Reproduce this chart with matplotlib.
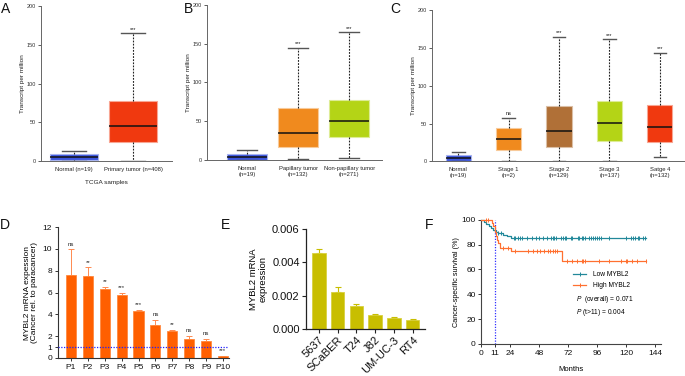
import numpy as np
import matplotlib
matplotlib.use("Agg")
import matplotlib.pyplot as plt
from matplotlib.lines import Line2D
from matplotlib import colors as mcolors

plt.rcParams['font.family'] = ['Liberation Sans', 'DejaVu Sans']
plt.rcParams['mathtext.fontset'] = 'custom'
plt.rcParams['mathtext.it'] = 'Liberation Sans:italic'
plt.rcParams['mathtext.rm'] = 'Liberation Sans'

# ---------------- data ----------------
# Panel A
A_labels = ["Normal (n=19)", "Primary tumor (n=408)"]
A_q1 = [0.8, 25]
A_med = [4.8, 45]
A_q3 = [8.5, 78]
A_lo = [0, 0.5]
A_hi = [13.3, 165]
A_sig = ["", "***"]
A_colors = ["#3C55DC", "#F0390F"]

# Panel B
B_labels = ["Normal\n(n=19)", "Papillary tumor\n(n=132)", "Non-papillary tumor\n(n=271)"]
B_q1 = [0.3, 16.5, 30]
B_med = [4.3, 34.5, 50]
B_q3 = [7.6, 67.5, 78]
B_lo = [0, 1.5, 2.5]
B_hi = [13.3, 145, 165]
B_sig = ["", "***", "***"]
B_colors = ["#3C55DC", "#F08A1E", "#B4D416"]

# Panel C
C_labels = ["Normal\n(n=19)", "Stage 1\n(n=2)", "Stage 2\n(n=129)", "Stage 3\n(n=137)", "Satge 4\n(n=132)"]
C_q1 = [0.4, 15.4, 18.5, 27.3, 26]
C_med = [4.5, 29, 40.6, 50.4, 45]
C_q3 = [8.3, 44, 73, 80.3, 74]
C_lo = [0, 1, 0, 0.5, 6]
C_hi = [12.7, 58, 165, 161.7, 143.5]
C_sig = ["", "ns", "***", "***", "***"]
C_colors = ["#3C55DC", "#F08A1E", "#B07037", "#B4D416", "#F0390F"]

# Panel D
D_labels = ["P1", "P2", "P3", "P4", "P5", "P6", "P7", "P8", "P9", "P10"]
D_vals = [7.57, 7.55, 6.29, 5.8, 4.34, 3.0, 2.47, 1.74, 1.6, 0.18]
D_err = [2.38, 0.75, 0.21, 0.2, 0.06, 0.5, 0.13, 0.31, 0.14, 0.03]
D_sig = ["ns", "**", "**", "***", "***", "ns", "**", "ns", "ns", "***"]

# Panel E
E_labels = ["5637", "SCaBER", "T24", "J82", "UM-UC-3", "RT4"]
E_vals = [0.00457, 0.00221, 0.00137, 0.00081, 0.00066, 0.00054]
E_err = [0.00022, 0.00029, 0.00012, 0.00006, 0.00004, 0.00004]

# Panel F (Kaplan-Meier)
low_t = [0, 2, 4, 6, 8, 10, 12, 14, 18, 21, 25, 136]
low_s = [100, 98, 96.5, 95, 93.5, 92, 90.5, 89.5, 88, 86.5, 85, 85]
low_cens = [14, 16, 27, 28, 30, 32, 34, 38, 42, 45, 48, 51, 54, 57.7, 59, 60.5, 62, 66,
            67.4, 69.3, 70, 74, 75, 80, 81, 83, 84.5, 85.6, 89.4, 91, 92.7, 94.4, 95.8,
            97.4, 98.8, 105.4, 119.8, 124.2, 126, 127.5, 129.4, 130.3, 134, 135.5]
high_t = [0, 8.5, 10, 11, 12, 13, 14, 15.5, 25, 66.5, 136.5]
high_s = [100, 97.5, 95, 90, 87, 84, 81, 77.5, 75, 67, 67]
high_cens = [3.5, 5.5, 18, 22, 28, 39, 43, 46, 49, 52, 55, 57, 59, 61, 63, 70.7, 74.8,
             78.9, 83.1, 84.5, 85.8, 97.7, 106, 115.4, 119.8, 121, 124.5, 128.6, 136.3]
F_xticks = [0, 11, 24, 48, 72, 96, 120, 144]

# ---------------- figure ----------------
W, H = 685, 376
fig = plt.figure(figsize=(W / 100, H / 100), dpi=100)


def add_ax(l, t, r, b):
    return fig.add_axes([l / W, 1 - b / H, (r - l) / W, (b - t) / H])


def lighten(c, f=0.45):
    rgb = np.array(mcolors.to_rgb(c))
    return tuple(rgb + (1 - rgb) * f)


def box_panel(ax, labels, q1, med, q3, lo, hi, sig, cols, xlim, width, ylabel):
    stats = []
    for i in range(len(labels)):
        stats.append(dict(med=med[i], q1=q1[i], q3=q3[i], whislo=lo[i], whishi=hi[i], fliers=[]))
    pos = np.arange(1, len(labels) + 1)
    bp = ax.bxp(stats, positions=pos, widths=width, patch_artist=True, showfliers=False,
                capwidths=width * 0.5,
                whiskerprops=dict(color='#222222', linestyle=(0, (1.6, 1.2)), linewidth=0.8),
                capprops=dict(color='#555555', linewidth=1.0),
                medianprops=dict(color='#111111', linewidth=1.1))
    for patch, c in zip(bp['boxes'], cols):
        patch.set_facecolor(c)
        patch.set_edgecolor(lighten(c, 0.55))
        patch.set_linewidth(0.8)
    for i, s in enumerate(sig):
        if s:
            ax.text(pos[i], hi[i] + 2, s, ha='center', va='bottom', fontsize=4, color='#111111')
    ax.set_xlim(*xlim)
    ax.set_ylim(0, 200)
    ax.set_yticks([0, 50, 100, 150, 200])
    ax.set_xticks(pos)
    ax.set_xticklabels(labels, fontsize=4.2, color='#222222', linespacing=1.3)
    ax.tick_params(axis='x', length=0, pad=4)
    ax.tick_params(axis='y', length=2, width=0.6, labelsize=4, pad=1.5, colors='#444444',
                   labelcolor='#333333')
    for sp in ['top', 'right']:
        ax.spines[sp].set_visible(False)
    for sp in ['left', 'bottom']:
        ax.spines[sp].set_color('#666666')
        ax.spines[sp].set_linewidth(0.7)
    ax.set_ylabel(ylabel, fontsize=4.6, color='#222222', labelpad=1.5)


axA = add_ax(41, 6, 172, 161)
box_panel(axA, A_labels, A_q1, A_med, A_q3, A_lo, A_hi, A_sig, A_colors,
          (0.44, 2.66), 0.81, "Transcript per million")
axA.set_xlabel("TCGA samples", fontsize=4.6, color='#222222', labelpad=6)

axB = add_ax(207, 5, 382, 160)
box_panel(axB, B_labels, B_q1, B_med, B_q3, B_lo, B_hi, B_sig, B_colors,
          (0.22, 3.64), 0.78, "Transcript per million")

axC = add_ax(432, 10.3, 685, 161.3)
box_panel(axC, C_labels, C_q1, C_med, C_q3, C_lo, C_hi, C_sig, C_colors,
          (0.48, 5.5), 0.5, "Transcript per million")

# ---------------- Panel D ----------------
axD = add_ax(57.7, 227, 229, 358)
xD = np.arange(len(D_labels))
axD.bar(xD, D_vals, width=0.6, color='#FF5F00', edgecolor='#FF8A40', linewidth=0.6, zorder=2)
axD.errorbar(xD, D_vals, yerr=[np.zeros(len(D_vals)), D_err], fmt='none',
             ecolor='#FF8A50', elinewidth=0.7, capsize=2, capthick=0.7, zorder=1)
for i, s in enumerate(D_sig):
    axD.text(xD[i], D_vals[i] + D_err[i] + 0.25, s, ha='center', va='bottom',
             fontsize=4.3, color='#222222')
axD.axhline(1, color='#2020FF', linestyle=(0, (1, 1.2)), linewidth=0.9, zorder=3)
axD.set_xlim(-0.79, 9.36)
axD.set_ylim(0, 12)
axD.set_yticks([0, 1, 2, 4, 6, 8, 10, 12])
axD.set_xticks(xD)
axD.set_xticklabels(D_labels)
axD.tick_params(axis='both', labelsize=6, length=2.5, width=0.7, pad=1.5, colors='#333333',
                labelcolor='#111111')
for sp in ['top', 'right']:
    axD.spines[sp].set_visible(False)
for sp in ['left', 'bottom']:
    axD.spines[sp].set_color('#333333')
    axD.spines[sp].set_linewidth(0.8)
axD.set_ylabel("MYBL2 mRNA expession\n(Cancer rel. to paracancer)", fontsize=6, labelpad=3,
               linespacing=1.1)

# ---------------- Panel E ----------------
axE = add_ax(306, 229.3, 425, 328.7)
xE = np.arange(len(E_labels))
axE.bar(xE, E_vals, width=0.71, color='#C8BE00', edgecolor='#D8D040', linewidth=0.6, zorder=2)
axE.errorbar(xE, E_vals, yerr=[np.zeros(len(E_vals)), E_err], fmt='none',
             ecolor='#C8BE00', elinewidth=0.8, capsize=2.5, capthick=0.8, zorder=1)
axE.set_xlim(-0.69, 5.66)
axE.set_ylim(0, 0.006)
axE.set_yticks([0, 0.002, 0.004, 0.006])
axE.set_yticklabels(["0.000", "0.002", "0.004", "0.006"])
axE.set_xticks(xE)
axE.set_xticklabels(E_labels, rotation=45, ha='right', rotation_mode='anchor')
axE.tick_params(axis='both', labelsize=8, length=3, width=0.8, pad=1.5, colors='#222222',
                labelcolor='#111111')
for sp in ['top', 'right']:
    axE.spines[sp].set_visible(False)
for sp in ['left', 'bottom']:
    axE.spines[sp].set_color('#222222')
    axE.spines[sp].set_linewidth(0.9)
axE.set_ylabel("MYBL2 mRNA\nexpression", fontsize=6.8, labelpad=3, linespacing=1.1)

# ---------------- Panel F ----------------
axF = add_ax(481.3, 219.7, 661, 344)
c_low, c_high = '#22889A', '#FF7030'


def km(ax, t, s, cens, color, label):
    t = np.asarray(t, float)
    s = np.asarray(s, float)
    ax.step(t, s, where='post', color=color, linewidth=0.9, zorder=3, label=label,
            clip_on=False)
    idx = np.searchsorted(t, np.asarray(cens), side='right') - 1
    ax.plot(cens, s[idx], linestyle='none', marker='|', markersize=3, mew=0.7,
            color=color, zorder=3, clip_on=False)


km(axF, low_t, low_s, low_cens, c_low, "Low MYBL2")
km(axF, high_t, high_s, high_cens, c_high, "High MYBL2")
axF.axvline(11, color='#3030FF', linestyle=(0, (1, 1.2)), linewidth=0.9, zorder=2)
axF.set_xlim(0, 148.8)
axF.set_ylim(0, 100)
axF.set_xticks(F_xticks)
axF.set_yticks([0, 20, 40, 60, 80, 100])
axF.tick_params(axis='both', labelsize=6, length=2.5, width=0.7, pad=1.5, colors='#333333',
                labelcolor='#111111')
for sp in ['top', 'right']:
    axF.spines[sp].set_visible(False)
for sp in ['left', 'bottom']:
    axF.spines[sp].set_color('#444444')
    axF.spines[sp].set_linewidth(0.8)
axF.set_xlabel("Months", fontsize=5.5, labelpad=7)
axF.set_ylabel("Cancer-specific survival (%)", fontsize=5.2, labelpad=1)
handles = [Line2D([], [], color=c_low, linewidth=0.9, marker='|', markersize=3, mew=0.7),
           Line2D([], [], color=c_high, linewidth=0.9, marker='|', markersize=3, mew=0.7)]
axF.legend(handles, ["Low MYBL2", "High MYBL2"], loc='center left',
           bbox_to_anchor=(76, 51.3), bbox_transform=axF.transData, frameon=False,
           fontsize=4.8, handlelength=2.0, handletextpad=1.0, labelspacing=0.55,
           borderaxespad=0, borderpad=0)
axF.text(78.4, 35.4, r"$\mathit{P}$  (overall) = 0.071", fontsize=4.8, va='center', ha='left')
axF.text(78.4, 25.7, r"$\mathit{P}$ (t>11) = 0.004", fontsize=4.8, va='center', ha='left')

# ---------------- panel letters ----------------
for letter, x, y in [("A", 1, 2), ("B", 184, 2), ("C", 390, 2),
                     ("D", 0, 218), ("E", 221, 218), ("F", 425, 218)]:
    fig.text(x / W, 1 - y / H, letter, fontsize=10, va='top', ha='left', color='#111111')

fig.savefig("out.png", dpi=100)
